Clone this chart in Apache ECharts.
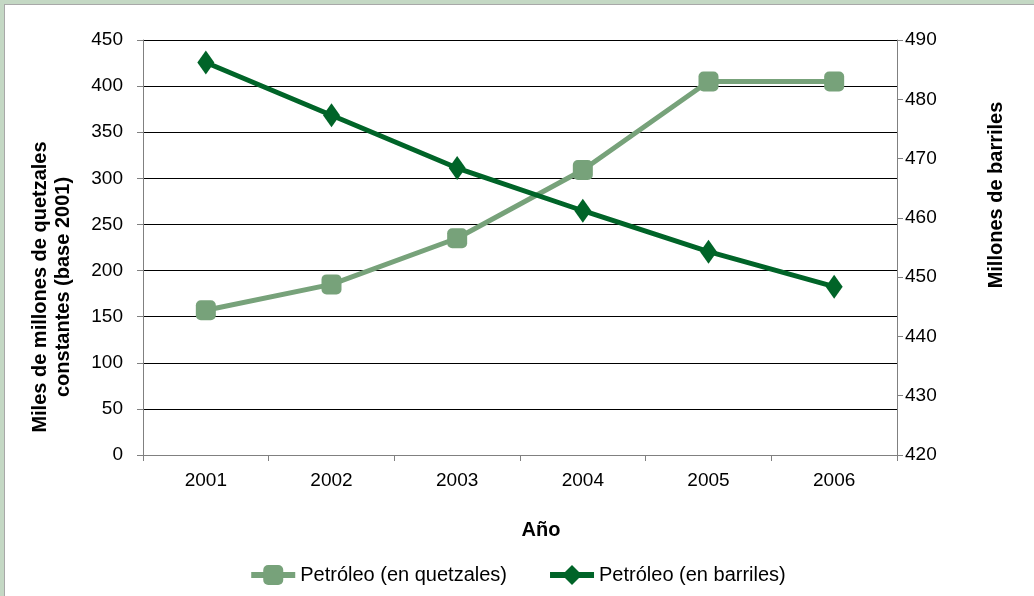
<!DOCTYPE html>
<html><head><meta charset="utf-8">
<script src="https://cdn.jsdelivr.net/npm/echarts@6/dist/echarts.min.js"></script>
<style>html,body{margin:0;padding:0;background:#fff}#c{width:1034px;height:596px}</style>
</head><body><div id="c"></div>
<script>
const years = ['2001','2002','2003','2004','2005','2006'];
const quetzales = [157, 185, 235, 309, 405, 405];
const barriles = [486.2, 477.3, 468.4, 461.2, 454.3, 448.4];
const leftTicks = {min: 0, max: 450, interval: 50};
const rightTicks = {min: 420, max: 490, interval: 10};
const nameQ = 'Petróleo (en quetzales)';
const nameB = 'Petróleo (en barriles)';
const FONT = '"Liberation Sans", Arial, sans-serif';
const chart = echarts.init(document.getElementById('c'));
chart.setOption({
  backgroundColor: '#fff',
  animation: false,
  textStyle: {fontFamily: FONT},
  graphic: [
    {type: 'rect', shape: {x: 0, y: 0, width: 1034, height: 4}, style: {fill: '#c4d8c4'}},
    {type: 'rect', shape: {x: 0, y: 0, width: 4, height: 596}, style: {fill: '#c4d8c4'}},
    {type: 'rect', shape: {x: 4, y: 4, width: 1030, height: 1}, style: {fill: '#a8a8a8'}},
    {type: 'rect', shape: {x: 4, y: 4, width: 1, height: 592}, style: {fill: '#a8a8a8'}},
    {type: 'text', x: 541, y: 530, style: {text: 'Año', font: 'bold 20px ' + FONT, fill: '#000', textAlign: 'center', textVerticalAlign: 'middle'}},
    {type: 'text', x: 52, y: 287, rotation: Math.PI / 2, style: {text: 'Miles de millones de quetzales\nconstantes (base 2001)', font: 'bold 20px ' + FONT, fill: '#000', textAlign: 'center', textVerticalAlign: 'middle', lineHeight: 23}},
    {type: 'text', x: 996, y: 195, rotation: Math.PI / 2, style: {text: 'Millones de barriles', font: 'bold 20px ' + FONT, fill: '#000', textAlign: 'center', textVerticalAlign: 'middle'}}
  ],
  grid: {left: 143, right: 137, top: 40, bottom: 141, containLabel: false},
  legend: {
    top: 560, left: 'center', itemGap: 40, itemWidth: 44, itemHeight: 25,
    textStyle: {fontSize: 20, color: '#000', fontFamily: FONT},
    lineStyle: {width: 6},
    data: [nameQ, nameB]
  },
  xAxis: {
    type: 'category', data: years, boundaryGap: true,
    axisLine: {lineStyle: {color: '#808080', width: 1}},
    axisTick: {show: true, length: 6, inside: false, alignWithLabel: false, lineStyle: {color: '#808080'}},
    axisLabel: {fontSize: 19, color: '#000', margin: 16, fontFamily: FONT}
  },
  yAxis: [
    {type: 'value', position: 'left', min: leftTicks.min, max: leftTicks.max, interval: leftTicks.interval,
     axisLine: {show: true, lineStyle: {color: '#808080'}},
     axisTick: {show: true, length: 6, lineStyle: {color: '#808080'}},
     axisLabel: {fontSize: 19, color: '#000', margin: 20, fontFamily: FONT},
     splitLine: {show: true, lineStyle: {color: '#000', width: 1}}},
    {type: 'value', position: 'right', min: rightTicks.min, max: rightTicks.max, interval: rightTicks.interval,
     axisLine: {show: true, lineStyle: {color: '#808080'}},
     axisTick: {show: true, length: 6, lineStyle: {color: '#808080'}},
     axisLabel: {fontSize: 19, color: '#000', margin: 8, fontFamily: FONT},
     splitLine: {show: false}}
  ],
  series: [
    {name: nameQ, type: 'line', yAxisIndex: 0, data: quetzales,
     symbol: 'roundRect', symbolSize: 20,
     lineStyle: {color: '#77a27a', width: 5},
     itemStyle: {color: '#77a27a'}},
    {name: nameB, type: 'line', yAxisIndex: 1, data: barriles,
     symbol: 'diamond', symbolSize: [17, 24],
     lineStyle: {color: '#006428', width: 5},
     itemStyle: {color: '#006428'}}
  ]
});
</script></body></html>
